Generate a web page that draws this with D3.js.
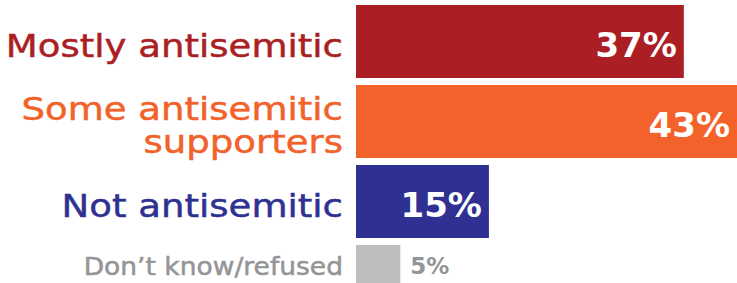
<!DOCTYPE html>
<html>
<head>
<meta charset="utf-8">
<script src="https://cdn.jsdelivr.net/npm/d3@7"></script>
<style>
  body { margin: 0; background: #fff; }
  svg { display: block; }
</style>
</head>
<body>
<script>
// data
var categories = ["Mostly antisemitic", "Some antisemitic supporters", "Not antisemitic", "Don\u2019t know/refused"];
var labelLines = [["Mostly antisemitic"], ["Some antisemitic", "supporters"], ["Not antisemitic"], ["Don\u2019t know/refused"]];
var values = [37, 43, 15, 5];
var valueLabels = ["37%", "43%", "15%", "5%"];

var width = 737, height = 283;

var colour = d3.scaleOrdinal()
    .domain(categories)
    .range(["#ab1f24", "#f2622a", "#2e3192", "#bcbec0"]);

var textColour = d3.scaleOrdinal()
    .domain(categories)
    .range(["#ab1f24", "#f2622a", "#2e3192", "#939598"]);

// scales: 80px per row, 73px bars
var x = d3.scaleLinear().domain([0, 43]).range([356, 737]);
var y = d3.scaleBand().domain(categories).range([5, 318]).paddingInner(7 / 80).paddingOuter(0);

var svg = d3.select("body").append("svg")
    .attr("width", width)
    .attr("height", height);

// last row is the small grey one, cut off at the bottom
var small = function(d) { return d === categories[3]; };

// bars
svg.selectAll(".bar")
    .data(categories)
  .enter().append("rect")
    .attr("class", "bar")
    .attr("x", x(0))
    .attr("y", function(d) { return y(d); })
    .attr("width", function(d, i) { return x(values[i]) - x(0); })
    .attr("height", function(d) { return small(d) ? height - y(d) : y.bandwidth(); })
    .attr("fill", function(d) { return colour(d); });

// category labels
var labels = svg.selectAll(".label")
    .data(categories)
  .enter().append("text")
    .attr("class", "label")
    .attr("text-anchor", "end")
    .attr("font-family", "'DejaVu Sans', sans-serif")
    .attr("font-size", function(d) { return small(d) ? 25 : 32.5; })
    .attr("fill", function(d) { return textColour(d); })
    .attr("stroke", function(d) { return textColour(d); })
    .attr("stroke-width", 0.5);

labels.each(function(d, i) {
  var lines = labelLines[i];
  var mid = y(d) + y.bandwidth() / 2;
  d3.select(this).selectAll("tspan")
      .data(lines)
    .enter().append("tspan")
      .attr("x", 343)
      .attr("y", function(l, j) {
        if (small(d)) return y(d) + 30;
        if (lines.length > 1) return mid - 1.5 + j * 33;
        return mid + 15;
      })
      .text(function(l) { return l; })
      .each(function() {
        // the original face is wider than DejaVu, stretch a bit
        var w = this.getComputedTextLength();
        d3.select(this)
            .attr("textLength", w * (small(d) ? 1.06 : 1.14))
            .attr("lengthAdjust", "spacingAndGlyphs");
      });
});

// value labels
svg.selectAll(".value")
    .data(categories)
  .enter().append("text")
    .attr("class", "value")
    .attr("font-family", "'DejaVu Sans', sans-serif")
    .attr("font-weight", "bold")
    .attr("font-size", function(d) { return small(d) ? 23 : 34; })
    .attr("text-anchor", function(d) { return small(d) ? "start" : "end"; })
    .attr("x", function(d, i) { return small(d) ? x(values[i]) + 10 : x(values[i]) - 7; })
    .attr("y", function(d) { return small(d) ? y(d) + 29 : y(d) + y.bandwidth() / 2 + 15; })
    .attr("fill", function(d) { return small(d) ? "#939598" : "#fff"; })
    .text(function(d, i) { return valueLabels[i]; });
</script>
</body>
</html>
